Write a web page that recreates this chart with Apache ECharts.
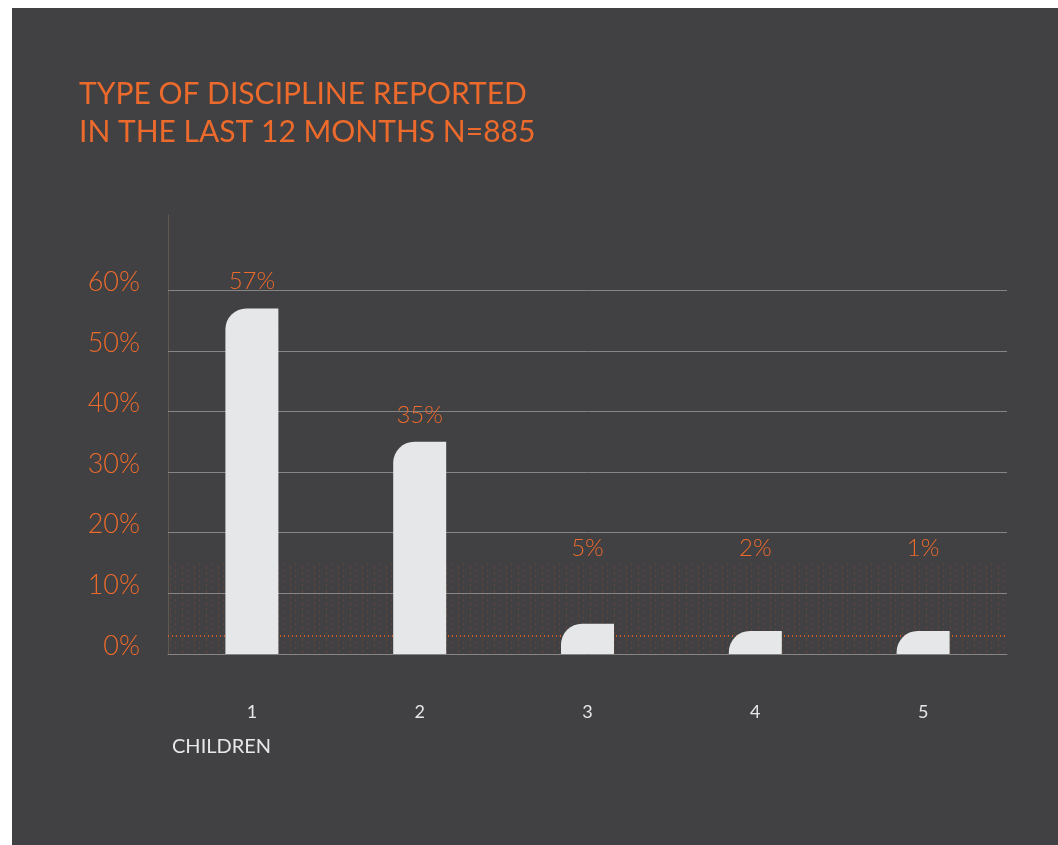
<!DOCTYPE html>
<html>
<head>
<meta charset="utf-8">
<script src="https://cdn.jsdelivr.net/npm/echarts@6/dist/echarts.min.js"></script>
<style>
  html, body { margin: 0; padding: 0; background: #ffffff; width: 1058px; height: 845px; overflow: hidden; }
  #chart { position: absolute; left: 12px; top: 8px; width: 1046px; height: 837px; }
</style>
</head>
<body>
<div id="chart"></div>
<script>
// ---- data ----
const categories = ['1', '2', '3', '4', '5'];
const values = [57, 35, 5, 2, 1];
const yTicks = [0, 10, 20, 30, 40, 50, 60];
const titleLines = ['TYPE OF DISCIPLINE REPORTED', 'IN THE LAST 12 MONTHS N=885'];
const xAxisTitle = 'CHILDREN';
const referenceLevel = 3;     // orange dotted line level
const bandTop = 15;           // textured band height (value units)

const ORANGE = '#ec6a2c';
const FONT = 'Lato, "Open Sans", sans-serif';

// texture pattern for the low band
function makePattern() {
  const c = document.createElement('canvas');
  c.width = 12; c.height = 6;
  const g = c.getContext('2d');
  g.fillStyle = 'rgba(214, 88, 40, 0.22)';
  g.fillRect(2, 0, 1, 3);
  g.fillRect(7, 3, 1, 2);
  return c;
}

const chart = echarts.init(document.getElementById('chart'), null, { renderer: 'canvas' });

const labelFloorValue = 17.5;

const option = {
  backgroundColor: '#414042',
  animation: false,
  title: [
    {
      text: titleLines.join('\n'),
      left: 62, top: 62,
      textStyle: { color: ORANGE, fontFamily: FONT, fontSize: 30, fontWeight: 'normal', lineHeight: 38 }
    },
    {
      text: xAxisTitle,
      left: 155, top: 724,
      textStyle: { color: '#e6e7e8', fontFamily: FONT, fontSize: 20, fontWeight: 'normal' }
    }
  ],
  grid: { left: 156, right: 51, top: 207, bottom: 191, containLabel: false },
  xAxis: {
    type: 'category',
    data: categories,
    axisLine: { show: true, lineStyle: { color: '#858585', width: 1 } },
    axisTick: { show: false },
    axisLabel: { color: '#e6e7e8', fontFamily: FONT, fontSize: 18, margin: 49 },
    splitLine: { show: false }
  },
  yAxis: {
    type: 'value',
    min: 0, max: 72.4, interval: 10,
    axisLine: { show: true, lineStyle: { color: '#5e5752', width: 1 } },
    axisTick: { show: false },
    splitLine: { show: false },
    axisLabel: {
      color: ORANGE, fontFamily: FONT, fontSize: 27, fontWeight: 300, margin: 28,
      verticalAlign: 'bottom', lineHeight: 16,
      formatter: v => (yTicks.indexOf(v) >= 0 ? v + '%' : '')
    }
  },
  series: [
    {
      // background texture, grid lines, reference line (behind bars)
      type: 'line',
      data: [],
      silent: true,
      z: 1,
      markArea: {
        silent: true,
        z: 0,
        itemStyle: { color: { image: makePattern(), repeat: 'repeat' } },
        data: [[{ yAxis: 0 }, { yAxis: bandTop }]]
      },
      markLine: {
        silent: true,
        z: 1,
        symbol: ['none', 'none'],
        label: { show: false },
        data: yTicks.filter(t => t > 0).map(t => ({ yAxis: t, lineStyle: { color: '#858585', width: 1, type: 'solid' } }))
          .concat([{ yAxis: referenceLevel, lineStyle: { color: '#d9602c', width: 2, type: [1, 3], opacity: 0.9 } }])
      }
    },
    {
      type: 'bar',
      data: values,
      z: 3,
      barWidth: 53,
      barMinHeight: 23,
      itemStyle: { color: '#e6e7e8', borderRadius: [21, 0, 0, 0] },
      label: {
        show: true,
        position: 'top',
        formatter: p => p.value + '%',
        color: ORANGE, fontFamily: FONT, fontSize: 24, fontWeight: 300
      },
      labelLayout: function (params) {
        const r = params.rect;
        const floorY = chart.convertToPixel({ yAxisIndex: 0 }, labelFloorValue);
        const y = Math.min(r.y - 27, floorY);
        return { x: r.x + r.width / 2, y: y, align: 'center', verticalAlign: 'middle' };
      }
    }
  ]
};

chart.setOption(option);
</script>
</body>
</html>
